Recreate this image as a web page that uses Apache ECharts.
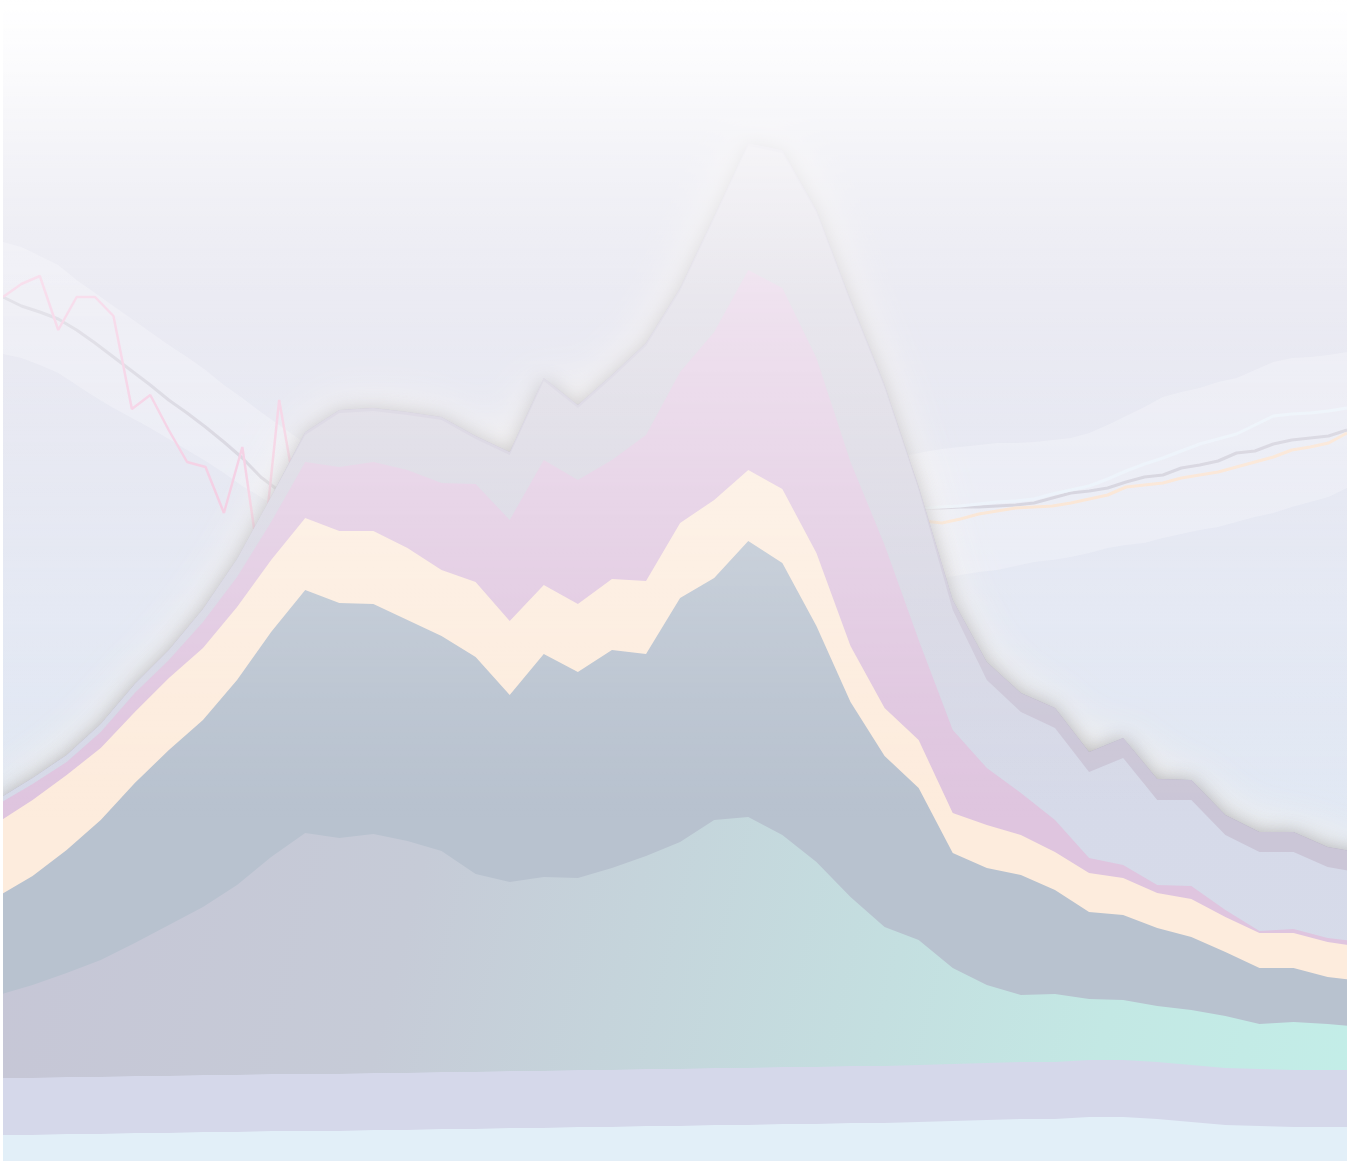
<!DOCTYPE html>
<html>
<head>
<meta charset="utf-8">
<script src="https://cdn.jsdelivr.net/npm/echarts@6/dist/echarts.min.js"></script>
<style>
  html, body { margin: 0; padding: 0; background: #ffffff; overflow: hidden; width: 1354px; height: 1161px; }
  #chart {
    position: absolute; left: -2px; top: 0; width: 1364px; height: 1161px;
    background: linear-gradient(to bottom, #cccce0 0%, #cdcddf 12%, #d7d7e7 26%, #e0e5f2 52%, #e3ecf6 86%, #e3eef7 100%);
  }
  .edge { position: absolute; top: 0; height: 1161px; background: #ffffff; z-index: 10; }
</style>
</head>
<body>
<div id="chart"></div>
<div class="edge" style="left:0;width:3px;"></div>
<div class="edge" style="left:1347px;width:7px;"></div>
<script>
// ---- categories ----
const areaCategories = ['1','2','3','4','5','6','7','8','9','10','11','12','13','14','15','16','17','18','19','20','21','22','23','24','25','26','27','28','29','30','31','32','33','34','35','36','37','38','39','40','41'];
const lineCategories = ['1','2','3','4','5','6','7','8','9','10','11','12','13','14','15','16','17','18','19','20','21','22','23','24','25','26','27','28','29','30','31','32','33','34','35','36','37','38','39','40','41','42','43','44','45','46','47','48','49','50','51','52','53','54','55','56','57','58','59','60','61','62','63','64','65','66','67','68','69','70','71','72','73','74'];

// ---- area boundaries (value of each layer's upper edge) ----
const ridgeTop   = [361,382,405,436,476,510,551,601,663,728,750,752,748,743,724,708,782,755,785,817,872,944,1017,1010,950,860,775,673,560,498,467,452,408,422,381,380,345,328,328,313,307];
const ridgeBase  = [361,382,405,436,476,510,551,601,663,725,747,749,745,740,721,705,779,752,782,814,869,941,1014,1007,947,857,772,670,550,480,448,432,388,402,360,360,325,308,308,293,287];
const pinkTop    = [356,376,398,428,467,500,538,583,638,698,693,698,690,677,676,640,700,680,700,725,788,828,890,872,802,698,615,520,430,392,367,340,302,295,275,274,250,229,231,222,218];
const peachTop   = [338,360,385,412,448,482,512,553,600,642,629,629,612,590,578,539,575,556,581,579,637,660,690,671,607,514,452,420,347,335,325,308,287,282,267,261,243,227,227,218,213];
const slateTop   = [264,284,310,340,377,410,440,480,528,570,557,556,540,524,503,465,506,488,510,506,562,582,619,597,534,458,404,372,307,292,285,270,248,245,232,223,208,192,192,183,179];
const tealTop    = [165,175,187,200,217,235,253,275,303,327,322,326,319,309,286,278,283,282,292,304,318,340,343,325,298,263,233,220,192,175,165,166,161,160,154,150,144,136,138,136,133];
const lavenderTop= [82,82,83,83,84,84,85,85,86,86,86,87,87,88,88,89,89,90,90,91,91,92,92,93,93,94,94,95,96,97,98,98,100,100,98,95,92,91,90,90,90];
const skyTop     = [25,25,26,26,27,27,28,28,29,29,29,30,30,31,31,32,32,33,33,34,34,35,35,36,36,37,37,38,39,40,41,41,43,43,41,38,35,34,33,33,33];

// ---- fine-grained lines and band ----
const n = null;
const bandLower = [806,802,795,787,775,763,752,742,732,721,710,699,687,674,663,652,641,630,
  n,n,n,n,n,n,n,n,n,n,n,n,n,n,n,n,n,n,n,n,n,n,n,n,n,n,n,n,n,
  565,570,575,578,582,585,588,590,594,598,600,603,607,612,615,617,622,626,630,633,638,643,647,653,658,663,672];
const bandWidth = [112,111,109,108,105,104,102,99,96,94,93,91,88,88,85,83,81,80,
  n,n,n,n,n,n,n,n,n,n,n,n,n,n,n,n,n,n,n,n,n,n,n,n,n,n,n,n,n,
  135,132,129,130,129,128,127,127,123,120,120,119,120,123,129,136,141,142,142,145,144,147,151,149,145,142,136];
const greyLine = [863,854,848,841,830,817,803,789,775,760,747,733,718,702,683,669,657,645,
  n,n,n,n,n,n,n,n,n,n,n,n,n,n,n,n,n,n,n,n,n,n,n,n,n,n,n,n,n,
  649,650,651,652,652,653,653,654,655,657,662,667,669,672,678,683,685,692,695,699,707,709,716,720,722,724,730];
const pinkLine = [863,876,884,830,863,863,844,751,765,730,698,693,647,713,585,760,655,690,
  n,n,n,n,n,n,n,n,n,n,n,n,n,n,n,n,n,n,n,n,n,n,n,n,n,n,n,n,n,
  n,n,n,n,n,n,n,n,n,n,n,n,n,n,n,n,n,n,n,n,n,n,n,n,n,n,n];
const whiteLine = [n,n,n,n,n,n,n,n,n,n,n,n,n,n,n,n,n,n,
  n,n,n,n,n,n,n,n,n,n,n,n,n,n,n,n,n,n,n,n,n,n,n,n,n,n,n,n,n,
  650,650,651,652,653,654,656,658,659,661,666,670,674,681,689,696,702,709,716,721,726,735,744,746,747,749,752];
const peachLine = [n,n,n,n,n,n,n,n,n,n,n,n,n,n,n,n,n,n,
  n,n,n,n,n,n,n,n,n,n,n,n,n,n,n,n,n,n,n,n,n,n,n,n,n,n,n,n,n,
  635,636,637,639,637,641,646,649,652,653,654,657,661,665,673,675,677,682,685,688,693,698,703,710,713,717,727];

const chart = echarts.init(document.getElementById('chart'), null, { renderer: 'canvas' });

function lin(x, y, x2, y2, stops) {
  return new echarts.graphic.LinearGradient(x, y, x2, y2, stops.map(s => ({ offset: s[0], color: s[1] })));
}
const noLine = { width: 0, opacity: 0 };

function areaSeries(name, data, fill, area) {
  return {
    name: name, type: 'line', xAxisIndex: 0, yAxisIndex: 0, data: data, z: 5,
    symbol: 'none', showSymbol: false, lineStyle: noLine,
    areaStyle: Object.assign({ opacity: 1, color: fill }, area || {}),
    silent: true
  };
}
function lineSeries(name, data, color, width) {
  return {
    name: name, type: 'line', xAxisIndex: 1, yAxisIndex: 1, data: data, z: 2,
    symbol: 'none', showSymbol: false, connectNulls: false,
    lineStyle: { color: color, width: width }, silent: true
  };
}

const option = {
  backgroundColor: 'transparent',
  animation: false,
  grid: [
    { left: 0.5, top: 0, width: 1363.2, height: 1160 },
    { left: 5, top: 0, width: 1344, height: 1160 }
  ],
  xAxis: [
    { type: 'category', gridIndex: 0, data: areaCategories, boundaryGap: false, show: false },
    { type: 'category', gridIndex: 1, data: lineCategories, boundaryGap: false, show: false }
  ],
  yAxis: [
    { type: 'value', gridIndex: 0, min: 0, max: 1160, show: false },
    { type: 'value', gridIndex: 1, min: 0, max: 1160, show: false }
  ],
  series: [
    { name: 'bandLower', type: 'line', xAxisIndex: 1, yAxisIndex: 1, stack: 'band', data: bandLower, z: 1,
      symbol: 'none', lineStyle: noLine, silent: true },
    { name: 'bandWidth', type: 'line', xAxisIndex: 1, yAxisIndex: 1, stack: 'band', data: bandWidth, z: 1,
      symbol: 'none', lineStyle: noLine, areaStyle: { color: 'rgba(252,252,255,0.27)', opacity: 1 }, silent: true },
    lineSeries('greyLine', greyLine, '#c8c6d4', 3),
    lineSeries('pinkLine', pinkLine, '#f0bcd9', 2.5),
    lineSeries('whiteLine', whiteLine, '#e6eff9', 3),
    lineSeries('peachLine', peachLine, '#f9dec8', 3),
    areaSeries('ridgeGlow', ridgeTop, '#cbc6d7', { shadowBlur: 50, shadowColor: 'rgba(255,247,234,0.8)' }),
    areaSeries('ridge', ridgeTop, '#cbc6d7', { shadowBlur: 18, shadowColor: 'rgba(50,50,60,0.33)' }),
    areaSeries('ridgeBase', ridgeBase, lin(0, 0, 0, 1, [[0, '#d2cedb'], [0.3, '#d3d0dd'], [0.65, '#d6dae9'], [1, '#d7dcea']])),
    areaSeries('pink', pinkTop, '#dfc5df'),
    areaSeries('peach', peachTop, '#fdecdd'),
    areaSeries('slate', slateTop, '#b8c2cf'),
    areaSeries('teal', tealTop, lin(0, 0, 1, 1, [[0, '#c6c6d6'], [0.3, '#c6cbd7'], [0.8, '#c3e8e4'], [1, '#c3eee8']])),
    areaSeries('lavender', lavenderTop, '#d5d8ea'),
    areaSeries('sky', skyTop, '#e2eff8')
  ],
  graphic: {
    elements: [
      {
        type: 'rect', left: 0, top: 0, zlevel: 1, z: 100, silent: true,
        shape: { x: 0, y: 0, width: 1364, height: 1161 },
        style: {
          fill: lin(0, 0, 0, 1, [
            [0, 'rgba(255,255,255,1)'],
            [0.052, 'rgba(255,255,255,0.93)'],
            [0.125, 'rgba(255,255,255,0.78)'],
            [0.258, 'rgba(255,255,255,0.5)'],
            [0.405, 'rgba(255,255,255,0.32)'],
            [0.5, 'rgba(255,255,255,0.2)'],
            [0.603, 'rgba(255,255,255,0.08)'],
            [0.706, 'rgba(255,255,255,0)'],
            [1, 'rgba(255,255,255,0)']
          ])
        }
      }
    ]
  }
};
chart.setOption(option);
</script>
</body>
</html>
